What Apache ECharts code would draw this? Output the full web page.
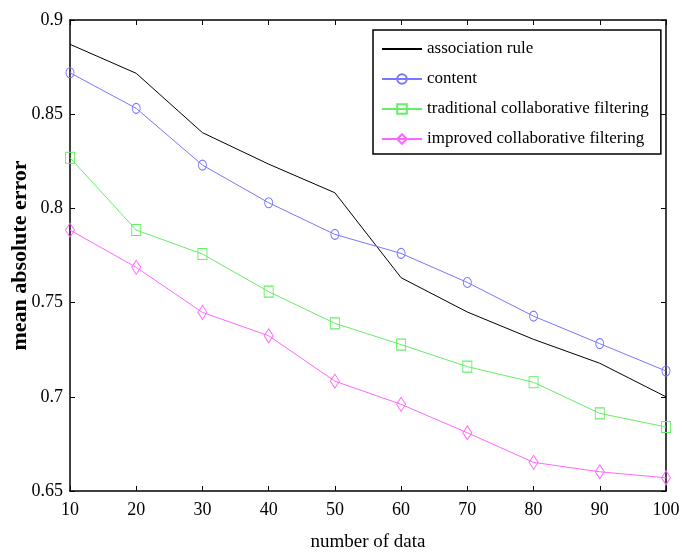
<!DOCTYPE html>
<html>
<head>
<meta charset="utf-8">
<script src="https://cdn.jsdelivr.net/npm/echarts@6/dist/echarts.min.js"></script>
<style>html,body{margin:0;padding:0;background:#fff}#c{width:682px;height:552px}</style>
</head>
<body>
<div id="c"></div>
<script>
const xValues = [10, 20, 30, 40, 50, 60, 70, 80, 90, 100];
const associationRule = [0.8871, 0.8717, 0.8402, 0.8235, 0.8083, 0.7632, 0.7450, 0.7305, 0.7178, 0.7000];
const content = [0.8720, 0.8531, 0.8230, 0.8030, 0.7862, 0.7761, 0.7607, 0.7428, 0.7282, 0.7137];
const traditionalCF = [0.8269, 0.7885, 0.7758, 0.7558, 0.7390, 0.7277, 0.7160, 0.7077, 0.6912, 0.6840];
const improvedCF = [0.7885, 0.7687, 0.7448, 0.7324, 0.7083, 0.6960, 0.6809, 0.6652, 0.6602, 0.6570];
const seriesNames = ['association rule', 'content', 'traditional collaborative filtering', 'improved collaborative filtering'];
const xLabel = 'number of data';
const yLabel = 'mean absolute error';

const FONT = '"Liberation Serif", "Times New Roman", serif';
const pairs = arr => xValues.map((x, i) => [x, arr[i]]);
const axisLine = { show: true, lineStyle: { color: '#000', width: 1.5 } };
const tick = { show: true, inside: true, length: 5, lineStyle: { color: '#000', width: 1 } };
const fmt = v => parseFloat(v.toFixed(2)).toString();

const chart = echarts.init(document.getElementById('c'), null, { renderer: 'canvas' });
chart.setOption({
  backgroundColor: '#fff',
  animation: false,
  grid: { left: 70, top: 20, right: 16, bottom: 61, containLabel: false, outerBoundsMode: 'none' },
  legend: {
    orient: 'vertical',
    left: 373, top: 30,
    padding: [9, 12, 5, 8],
    borderColor: '#000', borderWidth: 1.5,
    backgroundColor: '#fff',
    itemWidth: 40, itemHeight: 12, itemGap: 10,
    textStyle: { fontFamily: FONT, fontSize: 17, color: '#000', lineHeight: 20 },
    data: [
      { name: seriesNames[0], itemStyle: { opacity: 0 } },
      { name: seriesNames[1] },
      { name: seriesNames[2] },
      { name: seriesNames[3] }
    ]
  },
  xAxis: [{
    type: 'value', min: 10, max: 100, interval: 10,
    name: xLabel, nameLocation: 'middle', nameGap: 42, nameMoveOverlap: false,
    nameTextStyle: { fontFamily: FONT, fontSize: 19, color: '#000' },
    axisLine, axisTick: tick, splitLine: { show: false },
    axisLabel: { fontFamily: FONT, fontSize: 18, color: '#000', margin: 10 }
  }, {
    type: 'value', min: 10, max: 100, interval: 10, position: 'top',
    axisLine, axisTick: tick, splitLine: { show: false }, axisLabel: { show: false }
  }],
  yAxis: [{
    type: 'value', min: 0.65, max: 0.9, interval: 0.05,
    name: yLabel, nameLocation: 'middle', nameGap: 39, nameRotate: 90, nameMoveOverlap: false,
    nameTextStyle: { fontFamily: FONT, fontSize: 22, fontWeight: 'bold', color: '#000' },
    axisLine, axisTick: tick, splitLine: { show: false },
    axisLabel: { fontFamily: FONT, fontSize: 18, color: '#000', margin: 7, formatter: fmt }
  }, {
    type: 'value', min: 0.65, max: 0.9, interval: 0.05, position: 'right',
    axisLine, axisTick: tick, splitLine: { show: false }, axisLabel: { show: false }
  }],
  series: [
    {
      name: seriesNames[0], type: 'line', data: pairs(associationRule),
      showSymbol: false, symbol: 'none',
      lineStyle: { color: '#000', width: 1 }, itemStyle: { color: '#000' }
    },
    {
      name: seriesNames[1], type: 'line', data: pairs(content),
      symbol: 'circle', symbolSize: [8, 10],
      lineStyle: { color: '#7777ff', width: 1 },
      itemStyle: { color: 'rgba(255,255,255,0)', borderColor: '#7777ff', borderWidth: 1 }
    },
    {
      name: seriesNames[2], type: 'line', data: pairs(traditionalCF),
      symbol: 'rect', symbolSize: [9, 11],
      lineStyle: { color: '#66ee66', width: 1 },
      itemStyle: { color: 'rgba(255,255,255,0)', borderColor: '#66ee66', borderWidth: 1 }
    },
    {
      name: seriesNames[3], type: 'line', data: pairs(improvedCF),
      symbol: 'diamond', symbolSize: [9, 14],
      lineStyle: { color: '#ff66ff', width: 1 },
      itemStyle: { color: 'rgba(255,255,255,0)', borderColor: '#ff66ff', borderWidth: 1 }
    }
  ]
});
</script>
</body>
</html>
